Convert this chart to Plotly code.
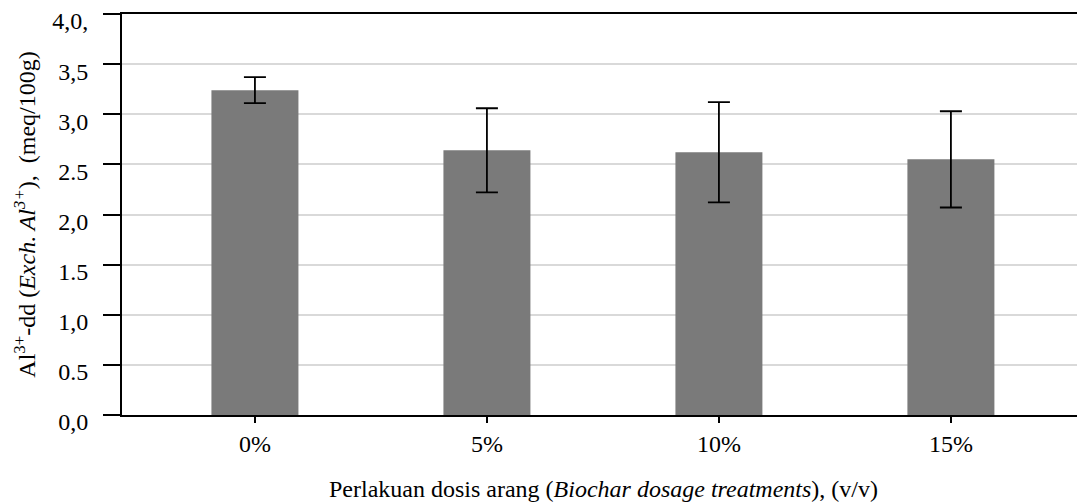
import plotly.graph_objects as go

categories = ["0%", "5%", "10%", "15%"]
means = [3.24, 2.64, 2.62, 2.55]
errors = [0.13, 0.42, 0.50, 0.48]
ytick_vals = [0, 0.5, 1.0, 1.5, 2.0, 2.5, 3.0, 3.5, 4.0]
ytick_text = ["0,0", "0.5", "1,0", "1.5", "2,0", "2.5", "3,0", "3,5", "4,0,"]

font = "Liberation Serif, Times New Roman, serif"

fig = go.Figure()
fig.add_trace(go.Bar(
    x=categories, y=means,
    marker=dict(color="#7a7a7a", line=dict(width=0)),
    width=0.375,
    error_y=dict(type="data", array=errors, visible=True,
                 color="black", thickness=1.8, width=11),
))

# page body has an 8px default margin; size the figure to fill the rest
fig.update_layout(
    width=1077, height=494,
    margin=dict(l=114, r=0, t=6, b=87),
    paper_bgcolor="white", plot_bgcolor="white",
    showlegend=False,
    font=dict(family=font, size=24, color="black"),
    xaxis=dict(
        type="category",
        range=[-0.573, 3.578],
        showline=True, linecolor="black", linewidth=1.8,
        mirror=True,
        ticks="outside", ticklen=6, tickwidth=1.8, tickcolor="black",
        ticklabelstandoff=0,
        showgrid=False,
        tickfont=dict(family=font, size=24),
        title=dict(text="Perlakuan dosis arang (<i>Biochar dosage treatments</i>), (v/v)",
                   font=dict(family=font, size=24), standoff=24),
    ),
    yaxis=dict(
        range=[0, 4],
        tickmode="array", tickvals=ytick_vals, ticktext=ytick_text,
        showline=True, linecolor="black", linewidth=1.8,
        ticks="outside", ticklen=17, tickwidth=1.8, tickcolor="black",
        ticklabelstandoff=10, ticklabelshift=7,
        showgrid=True, gridcolor="#d9d9d9", gridwidth=2,
        zeroline=False,
        tickfont=dict(family=font, size=24),
        title=dict(text="Al<sup>3+</sup>-dd (<i>Exch. Al<sup>3+</sup></i>),&nbsp; (meq/100g)",
                   font=dict(family=font, size=24), standoff=10),
    ),
)

fig.write_html("out.html")
